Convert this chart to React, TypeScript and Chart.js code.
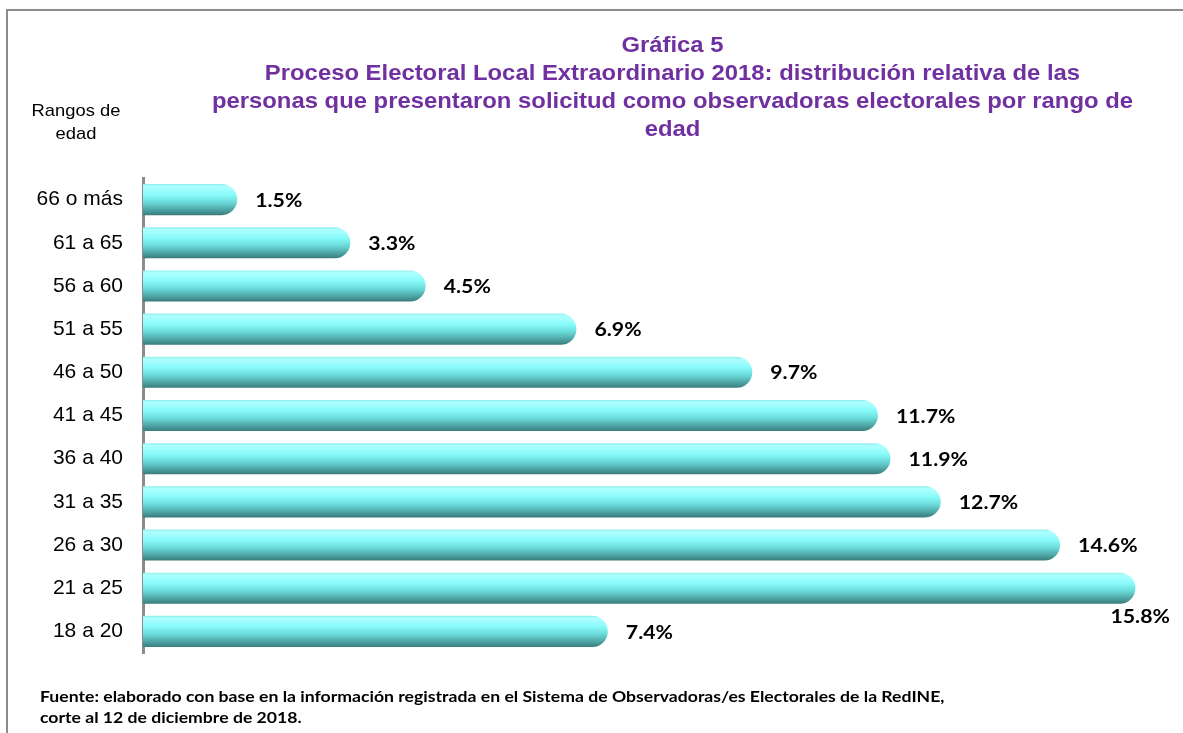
import React, { useEffect, useRef } from "react";
import { Chart, registerables } from "chart.js";

Chart.register(...registerables);

const categories = [
  "66 o más",
  "61 a 65",
  "56 a 60",
  "51 a 55",
  "46 a 50",
  "41 a 45",
  "36 a 40",
  "31 a 35",
  "26 a 30",
  "21 a 25",
  "18 a 20",
];
const percentages = [1.5, 3.3, 4.5, 6.9, 9.7, 11.7, 11.9, 12.7, 14.6, 15.8, 7.4];

const titleLines = [
  "Gráfica 5",
  "Proceso Electoral Local Extraordinario 2018: distribución relativa de las",
  "personas que presentaron solicitud como observadoras electorales por rango de",
  "edad",
];
const axisTitleLines = ["Rangos de", "edad"];
const sourceLines = [
  "Fuente:  elaborado con base en la información registrada en el Sistema de Observadoras/es Electorales de la RedINE,",
  "corte al 12 de diciembre de 2018.",
];

const BAR_FRACTION = 0.72;

const valueLabelPlugin = {
  id: "valueLabels",
  afterDatasetsDraw(chart: any) {
    const ctx = chart.ctx;
    const meta = chart.getDatasetMeta(0);
    const sx = 1.12;
    ctx.save();
    ctx.font = "bold 19px Lato";
    ctx.fillStyle = "#000";
    ctx.textBaseline = "middle";
    ctx.textAlign = "left";
    meta.data.forEach((bar: any, i: number) => {
      const text = percentages[i].toFixed(1) + "%";
      const w = ctx.measureText(text).width * sx;
      let x = bar.x + 18;
      let y = bar.y + 1;
      if (x + w > chart.width - 4) {
        x = bar.x - 25;
        y = bar.y + 29;
      }
      ctx.save();
      ctx.translate(x, y);
      ctx.scale(sx, 1);
      ctx.fillText(text, 0, 0);
      ctx.restore();
    });
    ctx.restore();
  },
};

export default function App() {
  const canvasRef = useRef<HTMLCanvasElement | null>(null);

  useEffect(() => {
    document.body.style.margin = "0";
    const canvas = canvasRef.current;
    if (!canvas) return;
    const chart = new Chart(canvas, {
      type: "bar",
      data: {
        labels: categories,
        datasets: [
          {
            data: percentages,
            backgroundColor: (c: any) => {
              const ch = c.chart;
              const ys = ch.scales && ch.scales.y;
              if (!ch.chartArea || !ys || c.type !== "data") return "#80f4f4";
              const center = ys.getPixelForValue(c.dataIndex);
              const half = ((ys.bottom - ys.top) / categories.length) * BAR_FRACTION / 2;
              const g = ch.ctx.createLinearGradient(0, center - half, 0, center + half);
              g.addColorStop(0, "#8feeee");
              g.addColorStop(0.08, "#b0ffff");
              g.addColorStop(0.35, "#88fafa");
              g.addColorStop(0.6, "#6ad8d8");
              g.addColorStop(0.82, "#4fa6a6");
              g.addColorStop(1, "#3b7b7b");
              return g;
            },
            borderWidth: 0,
            borderRadius: 16,
            borderSkipped: "start",
            categoryPercentage: 1,
            barPercentage: BAR_FRACTION,
          },
        ],
      },
      options: {
        indexAxis: "y",
        responsive: false,
        animation: false,
        events: [],
        layout: { padding: { top: 178, bottom: 80, right: 35, left: 0 } },
        plugins: {
          legend: { display: false },
          tooltip: { enabled: false },
          title: { display: false },
        },
        scales: {
          x: {
            display: false,
            min: 0,
            max: 16,
          },
          y: {
            grid: { display: false, drawTicks: false },
            border: { display: true, color: "#8c8c8c", width: 3 },
            ticks: {
              color: "#000",
              padding: 20,
              font: { family: "'Liberation Sans', Arial", size: 21 },
            },
            afterFit: (scale: any) => {
              scale.width = 143;
            },
          },
        },
      },
      plugins: [valueLabelPlugin],
    });
    return () => chart.destroy();
  }, []);

  return (
    <div
      style={{
        position: "relative",
        width: 1183,
        height: 733,
        overflow: "hidden",
        background: "#fff",
        fontFamily: "'Liberation Sans', Arial, sans-serif",
      }}
    >
      <div
        style={{
          position: "absolute",
          left: 6,
          top: 9,
          width: 1200,
          height: 760,
          borderTop: "2px solid #8c8c8c",
          borderLeft: "2px solid #8c8c8c",
        }}
      />
      <canvas
        ref={canvasRef}
        width={1183}
        height={733}
        style={{ position: "absolute", left: 0, top: 0 }}
      />
      <div
        style={{
          position: "absolute",
          left: 150,
          width: 1045,
          top: 31,
          textAlign: "center",
          color: "#7030a0",
          fontWeight: "bold",
          fontSize: 22.5,
          lineHeight: "28px",
          whiteSpace: "nowrap",
          transform: "scaleX(1.06)",
          transformOrigin: "523px 0",
        }}
      >
        {titleLines.map((t, i) => (
          <div key={i}>{t}</div>
        ))}
      </div>
      <div
        style={{
          position: "absolute",
          left: 16,
          width: 120,
          top: 99,
          textAlign: "center",
          color: "#000",
          fontSize: 17,
          lineHeight: "23px",
          transform: "scaleX(1.08)",
          transformOrigin: "60px 0",
        }}
      >
        {axisTitleLines.map((t, i) => (
          <div key={i}>{t}</div>
        ))}
      </div>
      <div
        style={{
          position: "absolute",
          left: 40,
          top: 686,
          color: "#000",
          fontWeight: "bold",
          fontSize: 15,
          lineHeight: "21px",
          fontFamily: "Lato, sans-serif",
          whiteSpace: "nowrap",
          transform: "scaleX(1.175)",
          transformOrigin: "0 0",
        }}
      >
        {sourceLines.map((t, i) => (
          <div key={i}>{t}</div>
        ))}
      </div>
    </div>
  );
}
